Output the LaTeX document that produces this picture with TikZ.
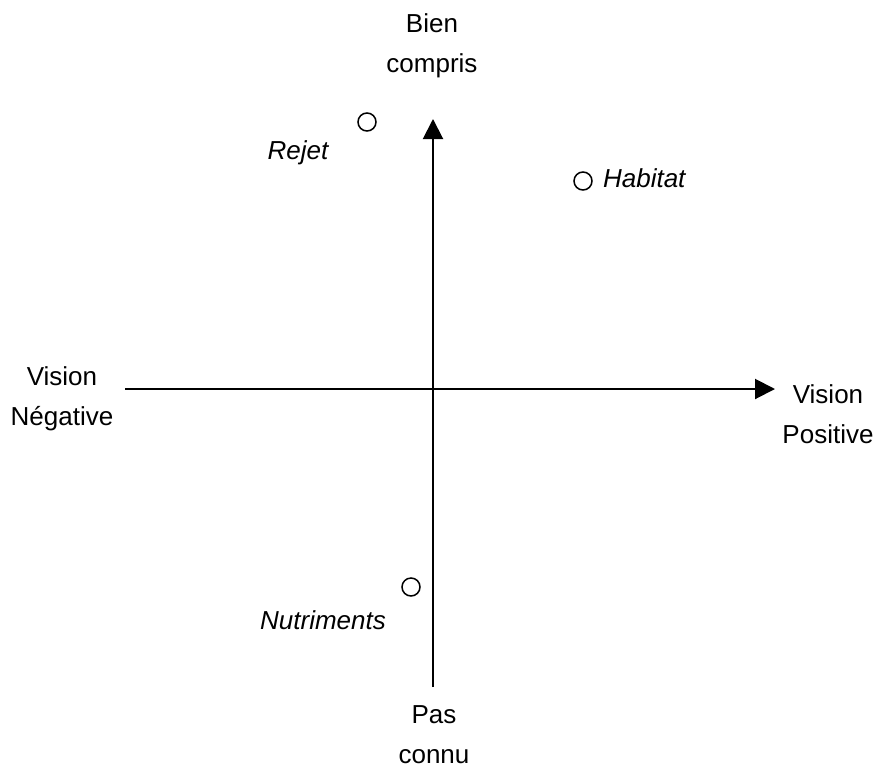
\documentclass[tikz,border=0pt]{standalone}
\usepackage{fontspec}
\setmainfont{Liberation Sans}
\usetikzlibrary{arrows.meta}

\begin{document}
\begin{tikzpicture}[x=0.5pt,y=-0.5pt,
    axis/.style={line width=1pt},
    tip/.style={-{Triangle[length=10pt,width=10pt]}},
    point/.style={circle,draw,line width=0.75pt,minimum size=9pt,inner sep=0pt},
    lbl/.style={align=center,anchor=base,font=\fontsize{13}{19.8}\selectfont},
    pname/.style={anchor=base,font=\fontsize{13}{15}\selectfont\itshape}]
  \useasboundingbox (0,0) rectangle (877,766);
  % axes
  \coordinate (ytop) at (433,119);
  \coordinate (ybot) at (433,687);
  \coordinate (xleft) at (125,389);
  \coordinate (xright) at (775,389);
  \draw[axis,tip] (ybot) -- (ytop);
  \draw[axis,tip] (xleft) -- (xright);
  % axis labels (base = last line)
  \node[lbl] (compris) at (432,72) {Bien\\compris};
  \node[lbl] (connu) at (434,763) {Pas\\connu};
  \node[lbl] (negative) at (62,425) {Vision\\Négative};
  \node[lbl] (positive) at (828,443) {Vision\\Positive};
  % points
  \node[point] (rejet) at (367,122) {};
  \node[pname] (rejetlbl) at (298,159) {Rejet};
  \node[point] (habitat) at (583,181) {};
  \node[pname,anchor=base west] (habitatlbl) at (596,187) {Habitat};
  \node[point] (nutriments) at (411,587) {};
  \node[pname] (nutrimentslbl) at (323,629) {Nutriments};
\end{tikzpicture}
\end{document}
